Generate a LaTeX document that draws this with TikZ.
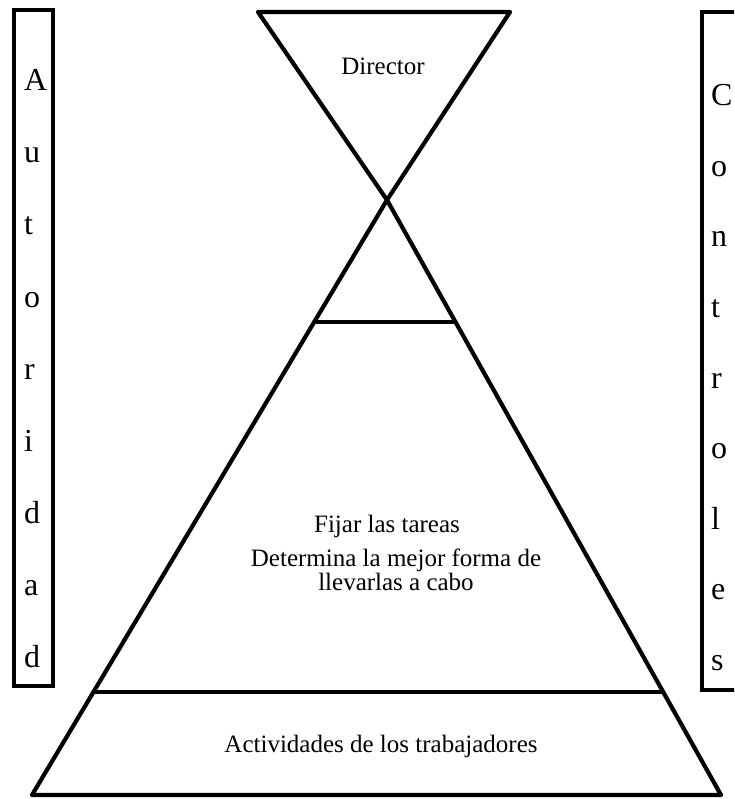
\documentclass[tikz,border=0pt]{standalone}
\usepackage{fontspec}
\setmainfont{Liberation Serif}
\usetikzlibrary{calc}
\begin{document}
\begin{tikzpicture}[x=1pt,y=-1pt,
  edge/.style={line width=4.2pt, line join=round, line cap=round},
  frame/.style={line width=4.5pt},
  lbl/.style={font=\fontsize{25}{20}\selectfont, inner sep=0pt, anchor=base},
  ltr/.style={font=\fontsize{32}{32}\selectfont, inner sep=0pt, anchor=base west}]
\useasboundingbox (0,0) rectangle (734,799);
\clip (0,0) rectangle (734,799);
% hourglass top and pyramid
\coordinate (tl) at (258,12);
\coordinate (tr) at (510,12);
\coordinate (x) at (387,200);
\coordinate (bl) at (32,795);
\coordinate (br) at (721,795);
\draw[edge] (tl) -- (tr) -- (x) -- cycle;
\draw[edge] (x) -- (bl) -- (br) -- cycle;
\draw[edge] ($(x)!0.205!(bl)$) -- ($(x)!0.205!(br)$);
\draw[edge] ($(x)!0.827!(bl)$) -- ($(x)!0.827!(br)$);
% side boxes
\draw[frame] (14,10) rectangle (53,686);
\draw[frame] (702,12) rectangle (760,690);
\foreach \c [count=\i from 0] in {A,u,t,o,r,i,d,a,d}
  \node[ltr] (a\i) at (24,{91+72*\i}) {\c};
\foreach \c [count=\i from 0] in {C,o,n,t,r,o,l,e,s}
  \node[ltr] (c\i) at (711,{106+70.5*\i}) {\c};
% texts
\node[lbl] (dir) at (383,75) {Director};
\node[lbl] (fijar) at (387,532) {Fijar las tareas};
\node[lbl, align=center] (det) at (396,590) {Determina la mejor forma de\\llevarlas a cabo};
\node[lbl] (act) at (381,752) {Actividades de los trabajadores};
\end{tikzpicture}
\end{document}
